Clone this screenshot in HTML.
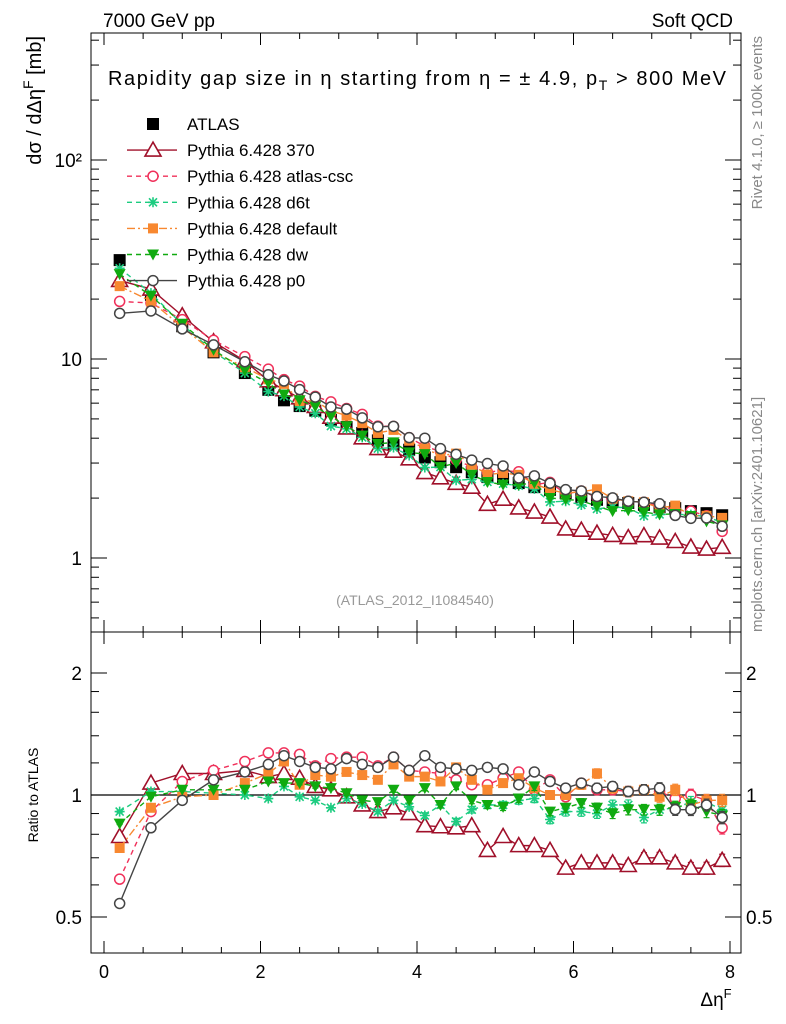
<!DOCTYPE html>
<html><head><meta charset="utf-8"><style>
body{margin:0;background:#fff;}
svg{display:block;font-family:"Liberation Sans",sans-serif;}
</style></head><body>
<svg id="c" width="786" height="1024" viewBox="0 0 786 1024" xmlns="http://www.w3.org/2000/svg">
<text x="103" y="27" font-size="19">7000 GeV pp</text>
<text x="733" y="27" font-size="19" text-anchor="end">Soft QCD</text>
<text transform="translate(762,36) rotate(-90)" font-size="15" fill="#888" text-anchor="end">Rivet 4.1.0, ≥ 100k events</text>
<text transform="translate(762,632) rotate(-90)" font-size="15" fill="#888">mcplots.cern.ch [arXiv:2401.10621]</text>
<text x="108" y="85" font-size="20" textLength="618" lengthAdjust="spacing">Rapidity gap size in η starting from η = ± 4.9, p<tspan font-size="14" dy="5">T</tspan><tspan dy="-5"> &gt; 800 MeV</tspan></text>
<text transform="translate(41,36) rotate(-90)" font-size="20" text-anchor="end">dσ / dΔη<tspan font-size="14" dy="-8">F</tspan><tspan dy="8"> [mb]</tspan></text>
<text transform="translate(38,795) rotate(-90)" font-size="14" text-anchor="middle">Ratio to ATLAS</text>
<text x="716" y="1006" font-size="19" text-anchor="middle">Δη<tspan font-size="13" dy="-8">F</tspan></text>
<text x="415" y="605" font-size="14" fill="#999" text-anchor="middle">(ATLAS_2012_I1084540)</text>
<g id="axes"></g>
<g id="series"></g>
<g id="legend"></g>
</svg>
<script>
const xVals=[0.2,0.6,1.0,1.4,1.8,2.1,2.3,2.5,2.7,2.9,3.1,3.3,3.5,3.7,3.9,4.1,4.3,4.5,4.7,4.9,5.1,5.3,5.5,5.7,5.9,6.1,6.3,6.5,6.7,6.9,7.1,7.3,7.5,7.7,7.9];
const atlas=[31.4,21,14.6,10.8,8.5,7.0,6.2,5.8,5.5,4.95,4.55,4.25,3.9,3.7,3.5,3.2,3.03,2.86,2.7,2.55,2.5,2.38,2.27,2.2,2.12,2.03,1.96,1.91,1.89,1.85,1.8,1.78,1.72,1.68,1.64];
const r370=[0.79,1.07,1.13,1.13,1.15,1.11,1.13,1.10,1.05,1.03,0.99,0.945,0.91,0.93,0.90,0.84,0.835,0.83,0.84,0.73,0.79,0.75,0.75,0.73,0.66,0.68,0.68,0.68,0.67,0.70,0.70,0.68,0.66,0.66,0.69];
const rCsc=[0.62,0.91,1.08,1.15,1.21,1.27,1.27,1.26,1.18,1.23,1.24,1.24,1.18,1.24,1.15,1.14,1.13,1.09,1.06,1.06,1.10,1.14,1.03,1.09,0.99,1.07,1.03,1.03,1.02,1.03,1.02,0.98,1.0,0.97,0.83];
const rD6t=[0.91,1.02,1.02,1.01,1.0,0.98,1.05,0.99,0.97,0.93,0.98,0.95,0.91,0.97,0.935,0.89,0.945,0.86,0.92,0.945,0.945,0.97,0.98,0.87,0.91,0.91,0.90,0.945,0.945,0.88,0.92,0.93,0.96,0.96,0.92];
const rDef=[0.74,0.93,0.99,1.0,1.07,1.13,1.21,1.06,1.12,1.11,1.14,1.12,1.09,1.19,1.11,1.11,1.08,1.17,1.09,1.03,1.07,1.10,1.04,1.0,1.0,1.06,1.13,1.04,1.02,1.03,0.99,1.03,0.945,0.97,0.97];
const rDw=[0.85,0.99,1.03,1.03,1.03,1.08,1.07,1.07,1.05,1.04,1.01,0.97,0.96,1.03,0.97,1.04,0.945,1.05,0.97,0.945,0.935,0.98,1.05,0.91,0.93,0.955,0.93,0.90,0.92,0.92,0.92,0.935,0.945,0.91,0.89];
const rP0=[0.54,0.83,0.97,1.09,1.14,1.19,1.25,1.21,1.17,1.16,1.23,1.19,1.17,1.24,1.15,1.25,1.17,1.16,1.15,1.17,1.16,1.06,1.14,1.08,1.04,1.07,1.04,1.05,1.02,1.03,1.04,0.92,0.92,0.945,0.88];
const relErr=[0.005,0.005,0.005,0.005,0.005,0.01,0.01,0.01,0.01,0.01,0.012,0.012,0.013,0.014,0.015,0.016,0.017,0.018,0.019,0.02,0.021,0.022,0.023,0.024,0.025,0.026,0.027,0.028,0.029,0.03,0.031,0.032,0.033,0.034,0.035];
const xTicks=[0,2,4,6,8];
const mainTicks=[[1,"1"],[10,"10"],[100,"10²"]];
const ratioTicks=[[0.5,"0.5"],[1,"1"],[2,"2"]];

const NS="http://www.w3.org/2000/svg";
const L=91,R=741,MT=33,MB=632,RB=953;
const X=v=>104+(v)*78.25;
const YM=v=>558-199*Math.log10(v);
const YR=v=>795-122*Math.log2(v);
function el(tag,attrs,parent){const e=document.createElementNS(NS,tag);for(const k in attrs)e.setAttribute(k,attrs[k]);parent.appendChild(e);return e;}
const axes=document.getElementById('axes'),ser=document.getElementById('series'),leg=document.getElementById('legend');
let f1=el('rect',{x:L,y:MT,width:R-L,height:MB-MT,fill:'none',stroke:'#000','stroke-width':1},axes);


let f2=el('rect',{x:L,y:MB,width:R-L,height:RB-MB,fill:'none',stroke:'#000','stroke-width':1},axes);


for(let v=0;v<=8.001;v+=0.5){const major=Math.abs(v-Math.round(v/2)*2)<1e-6;const len=major?12:6;
 for(const [yb,yt] of [[MB,MT],[RB,MB]]){el('line',{x1:X(v),x2:X(v),y1:yb,y2:yb-len,stroke:'#000'},axes);el('line',{x1:X(v),x2:X(v),y1:yt,y2:yt+len,stroke:'#000'},axes);}}
xTicks.forEach(v=>{const t=el('text',{x:X(v),y:978,'font-size':18,'text-anchor':'middle'},axes);t.textContent=v;
 
 });
for(let d=-1;d<=2;d++){for(let m=1;m<=9;m++){const v=m*Math.pow(10,d);const y=YM(v);if(y<MT||y>MB)continue;const len=m==1?16:8;
 el('line',{x1:L,x2:L+len,y1:y,y2:y,stroke:'#000'},axes);el('line',{x1:R,x2:R-len,y1:y,y2:y,stroke:'#000'},axes);}}
mainTicks.forEach(([v,s])=>{const t=el('text',{x:82,y:YM(v)+7,'font-size':19,'text-anchor':'end'},axes);t.textContent=s;
 
 });
[0.5,0.6,0.7,0.8,0.9,1,1.2,1.4,1.6,1.8,2].forEach(v=>{const y=YR(v);const len=(v==0.5||v==1||v==2)?16:8;
 el('line',{x1:L,x2:L+len,y1:y,y2:y,stroke:'#000'},axes);el('line',{x1:R,x2:R-len,y1:y,y2:y,stroke:'#000'},axes);});
ratioTicks.forEach(([v,s])=>{for(const [x,a] of [[82,'end'],[746,'start']]){const t=el('text',{x:x,y:YR(v)+7,'font-size':19,'text-anchor':a},axes);t.textContent=s;
 
 }});
let one=el('line',{x1:L,x2:R,y1:YR(1),y2:YR(1),stroke:'#000','stroke-width':1.2},axes);



function marker(kind,col,x,y,g){
 if(kind=='sq')return el('rect',{x:x-6,y:y-6,width:12,height:12,fill:col},g);
 if(kind=='sqs')return el('rect',{x:x-5,y:y-5,width:10,height:10,fill:col},g);
 if(kind=='tri')return el('polygon',{points:`${x},${y-8} ${x-8},${y+6} ${x+8},${y+6}`,fill:'#fff',stroke:col,'stroke-width':1.6},g);
 if(kind=='dtri')return el('polygon',{points:`${x-6},${y-5} ${x+6},${y-5} ${x},${y+6}`,fill:col},g);
 if(kind=='circ')return el('circle',{cx:x,cy:y,r:5,fill:'#fff',stroke:col,'stroke-width':1.5},g);
 if(kind=='star'){return el('path',{d:`M${x-5},${y}H${x+5}M${x},${y-5}V${y+5}M${x-4},${y-4}L${x+4},${y+4}M${x-4},${y+4}L${x+4},${y-4}`,stroke:col,'stroke-width':1.6},g);}
}
const series=[
 {name:'Pythia 6.428 370',key:'370',r:r370,col:'#a0102a',dash:'',m:'tri'},
 {name:'Pythia 6.428 atlas-csc',key:'atlas-csc',r:rCsc,col:'#f0305a',dash:'5,4',m:'circ'},
 {name:'Pythia 6.428 d6t',key:'d6t',r:rD6t,col:'#1ccc80',dash:'5,4',m:'star'},
 {name:'Pythia 6.428 default',key:'default',r:rDef,col:'#f88830',dash:'8,3,2,3',m:'sqs'},
 {name:'Pythia 6.428 dw',key:'dw',r:rDw,col:'#10aa10',dash:'5,4',m:'dtri'},
 {name:'Pythia 6.428 p0',key:'p0',r:rP0,col:'#444',dash:'',m:'circ'}
];
const defs=el('defs',{},document.getElementById('c'));
const cp=el('clipPath',{id:'cm'},defs);el('rect',{x:L,y:MT,width:R-L,height:MB-MT},cp);
const cr=el('clipPath',{id:'cr'},defs);el('rect',{x:L,y:MB,width:R-L,height:RB-MB},cr);
const ga=el('g',{},ser);


atlas.forEach((v,i)=>{const m=marker('sq','#000',X(xVals[i]),YM(v),ga);
 
 });
series.forEach(s=>{
 const gm=el('g',{'clip-path':'url(#cm)'},ser);
 
 
 const pts=s.r.map((r,i)=>[X(xVals[i]),YM(atlas[i]*r)]);
 el('polyline',{points:pts.map(p=>p.join(',')).join(' '),fill:'none',stroke:s.col,'stroke-width':1.4,'stroke-dasharray':s.dash},gm);
 pts.forEach(p=>{const m=marker(s.m,s.col,p[0],p[1],gm);
  
  });
 const gr=el('g',{'clip-path':'url(#cr)'},ser);
 
 
 const rp=s.r.map((r,i)=>[X(xVals[i]),YR(r)]);
 el('polyline',{points:rp.map(p=>p.join(',')).join(' '),fill:'none',stroke:s.col,'stroke-width':1.4,'stroke-dasharray':s.dash},gr);
 s.r.forEach((r,i)=>{const x=X(xVals[i]);const y1=YR(r*(1+relErr[i])),y2=YR(r*(1-relErr[i]));
  el('path',{d:`M${x},${y1}V${y2}M${x-3},${y1}H${x+3}M${x-3},${y2}H${x+3}`,stroke:s.col,'stroke-width':1.2,fill:'none'},gr);
  const m=marker(s.m,s.col,x,YR(r),gr);
  
  });
});
const rows=[{name:'ATLAS',m:'sq',col:'#000',line:false}].concat(series.map(s=>({name:s.name,m:s.m,col:s.col,dash:s.dash,line:true})));
rows.forEach((r,i)=>{const y=124+i*26.1;const g=el('g',{},leg);
 
 
 if(r.line)el('line',{x1:127,x2:177,y1:y,y2:y,stroke:r.col,'stroke-width':1.4,'stroke-dasharray':r.dash},g);
 marker(r.m,r.col,153,y,g);
 const t=el('text',{x:187,y:y+6,'font-size':17},g);t.textContent=r.name;});
</script>
</body></html>
